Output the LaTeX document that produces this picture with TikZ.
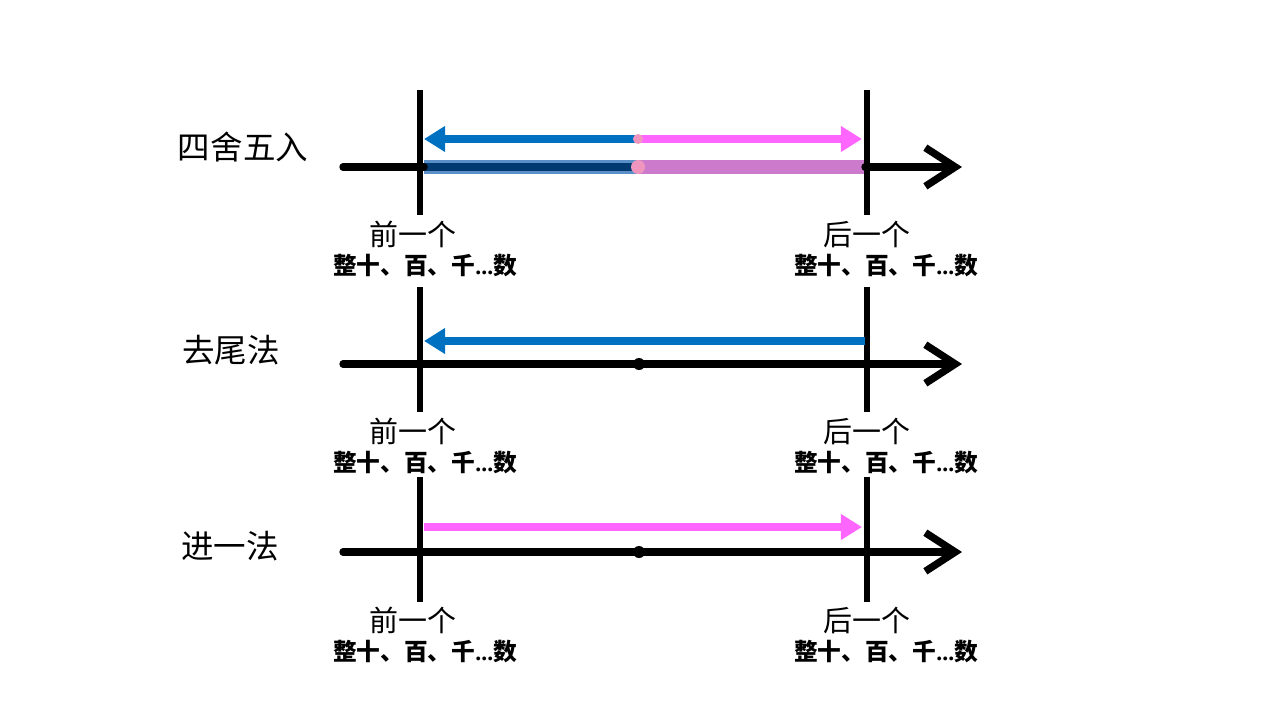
\documentclass[tikz,border=0pt]{standalone}
\usepackage{fontspec}
\setmainfont{Liberation Serif}
\newfontfamily\cjk{Noto Sans CJK SC}
\usepackage{tikz}
\usetikzlibrary{arrows.meta,positioning}
\definecolor{roundblue}{RGB}{0,112,192}
\definecolor{roundpink}{RGB}{255,102,255}
\definecolor{barblue}{RGB}{91,143,200}
\definecolor{barnavy}{RGB}{0,58,112}
\definecolor{barpink}{RGB}{204,122,204}
\definecolor{dotpink}{RGB}{240,150,190}

\begin{document}
\begin{tikzpicture}[
  x=0.02cm, y=-0.02cm,
  axis/.style={line width=4.2pt, line cap=round, -{Straight Barb[length=17pt, width=22pt, line width=4.2pt]}},
  mark line/.style={line width=3.8pt},
  dir/.style={line width=4pt, -{Triangle[length=12pt, width=14pt]}},
  title/.style={font=\cjk\fontsize{18.5}{20}\selectfont},
  upper/.style={font=\cjk\fontsize{16.5}{18}\selectfont},
  lower/.style={font=\cjk\bfseries\fontsize{13.5}{15}\selectfont}
]
\useasboundingbox (0,0) rectangle (1280,720);

% row 1: 四舍五入
\coordinate (a1) at (343,167);
\coordinate (b1) at (962,167);
\coordinate (c1) at (424,167);
\coordinate (d1) at (865,167);
\coordinate (m1) at (638,167);
\coordinate (l1t) at (420,90);
\coordinate (l1b) at (420,215);
\coordinate (r1t) at (867,90);
\coordinate (r1b) at (867,215);
\coordinate (u1) at (638,139);
\coordinate (ul1) at (424,139);
\coordinate (ur1) at (862,139);
\node[title] (t1) at (243,147) {四舍五入};

\draw[barblue, line width=7.5pt] (c1) -- (m1);
\draw[barnavy, line width=4pt] (c1) -- (m1);
\draw[barpink, line width=7.5pt] (m1) -- (d1);
\draw[axis, -] (a1) -- (c1);
\draw[axis] (d1) -- (b1);
\draw[mark line] (l1t) -- (l1b);
\draw[mark line] (r1t) -- (r1b);
\draw[dir, roundblue] (u1) -- (ul1);
\draw[dir, roundpink] (u1) -- (ur1);
\fill[dotpink] (u1) circle (5);
\fill[dotpink] (m1) circle (7);

\node[upper] (p1) at (413,234) {前一个};
\node[lower] (q1) at (425,266) {整十、百、千{\rmfamily\bfseries...}数};
\node[upper] (s1) at (867,234) {后一个};
\node[lower] (v1) at (886,266) {整十、百、千{\rmfamily\bfseries...}数};

% row 2: 去尾法
\coordinate (a2) at (343,364);
\coordinate (b2) at (962,364);
\coordinate (m2) at (639,364);
\coordinate (l2t) at (420,287);
\coordinate (l2b) at (420,412);
\coordinate (r2t) at (867,287);
\coordinate (r2b) at (867,412);
\coordinate (ul2) at (424,341);
\coordinate (ur2) at (865,341);
\node[title] (t2) at (231,350) {去尾法};
\draw[axis] (a2) -- (b2);
\draw[mark line] (l2t) -- (l2b);
\draw[mark line] (r2t) -- (r2b);
\draw[dir, roundblue] (ur2) -- (ul2);
\fill (m2) circle (6);

\node[upper] (p2) at (413,431) {前一个};
\node[lower] (q2) at (425,463) {整十、百、千{\rmfamily\bfseries...}数};
\node[upper] (s2) at (867,431) {后一个};
\node[lower] (v2) at (886,463) {整十、百、千{\rmfamily\bfseries...}数};

% row 3: 进一法
\coordinate (a3) at (343,552);
\coordinate (b3) at (962,552);
\coordinate (m3) at (639,552);
\coordinate (l3t) at (420,477);
\coordinate (l3b) at (420,602);
\coordinate (r3t) at (867,477);
\coordinate (r3b) at (867,602);
\coordinate (ul3) at (424,527);
\coordinate (ur3) at (862,527);
\node[title] (t3) at (230,546) {进一法};
\draw[axis] (a3) -- (b3);
\draw[mark line] (l3t) -- (l3b);
\draw[mark line] (r3t) -- (r3b);
\draw[dir, roundpink] (ul3) -- (ur3);
\fill (m3) circle (6);

\node[upper] (p3) at (413,620) {前一个};
\node[lower] (q3) at (425,652) {整十、百、千{\rmfamily\bfseries...}数};
\node[upper] (s3) at (867,620) {后一个};
\node[lower] (v3) at (886,652) {整十、百、千{\rmfamily\bfseries...}数};

\end{tikzpicture}
\end{document}
